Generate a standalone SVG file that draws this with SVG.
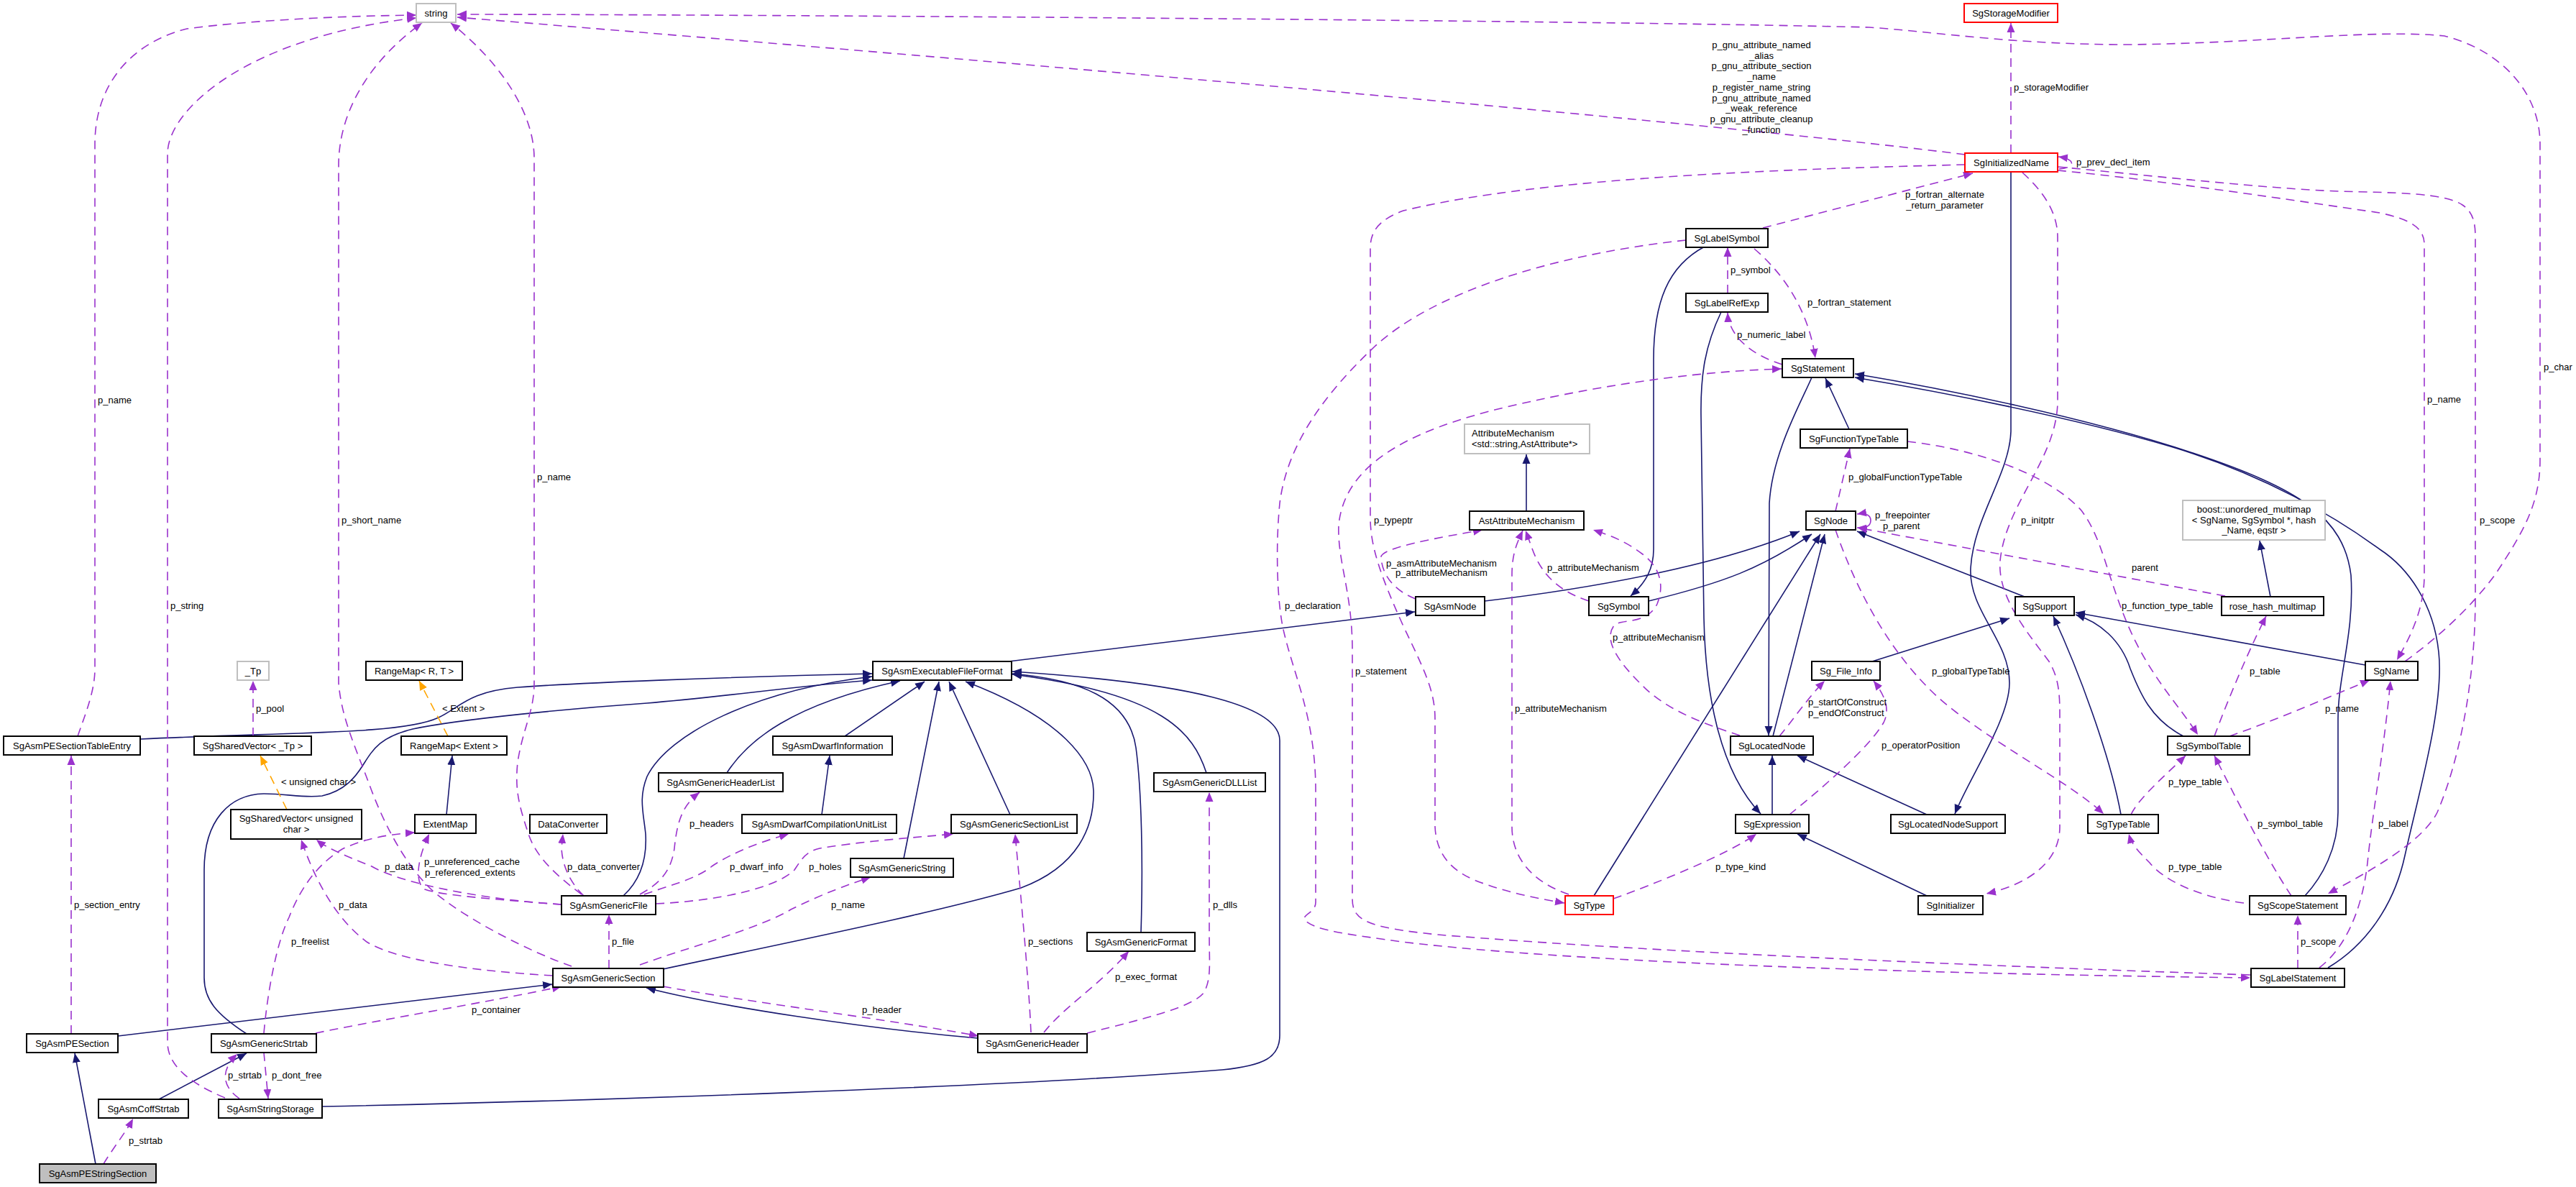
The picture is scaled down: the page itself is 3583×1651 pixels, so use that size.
<svg xmlns="http://www.w3.org/2000/svg" width="3583" height="1651" viewBox="0 0 3583 1651">
<style>
.node rect{fill:#fff;stroke:#000;stroke-width:2}
.node.g rect{stroke:#bfbfbf}
.node.r rect{stroke:#ff0000}
.node.f rect{fill:#bfbfbf}
text{font-family:"Liberation Sans",Arial,sans-serif;font-size:13px;fill:#000}
.node text{text-anchor:middle}
.s{fill:none;stroke:#191970;stroke-width:1.6;marker-end:url(#ab)}
.d{fill:none;stroke:#9a32cd;stroke-width:1.6;stroke-dasharray:12,8;marker-end:url(#ap)}
.dn{fill:none;stroke:#9a32cd;stroke-width:1.6;stroke-dasharray:12,8}
.o{fill:none;stroke:#ffa500;stroke-width:1.6;stroke-dasharray:12,8;marker-end:url(#ao)}
.c{text-anchor:middle}
</style>
<defs>
<marker id="ab" markerUnits="userSpaceOnUse" markerWidth="14" markerHeight="12" viewBox="0 0 14 12" refX="13" refY="6" orient="auto"><path d="M0,0.5 L13,6 L0,11.5 Z" fill="#191970"/></marker>
<marker id="ap" markerUnits="userSpaceOnUse" markerWidth="14" markerHeight="12" viewBox="0 0 14 12" refX="13" refY="6" orient="auto"><path d="M0,0.5 L13,6 L0,11.5 Z" fill="#9a32cd"/></marker>
<marker id="ao" markerUnits="userSpaceOnUse" markerWidth="14" markerHeight="12" viewBox="0 0 14 12" refX="13" refY="6" orient="auto"><path d="M0,0.5 L13,6 L0,11.5 Z" fill="#ffa500"/></marker>
</defs>
<rect width="3583" height="1651" fill="#fff"/>
<g id="edges">
<path class="s" d="M133,1619 L104,1465"/>
<path class="s" d="M221,1529 L343,1465"/>
<path class="s" d="M164,1441 L768,1369"/>
<path class="s" d="M195,1028 C400,1018 560,1022 610,998 C640,984 650,962 720,956 C800,950 1000,942 1213,937"/>
<path class="s" d="M343,1438 C300,1410 284,1390 284,1360 L284,1210 C284,1140 320,1105 367,1104 C400,1104 420,1110 448,1107 C480,1100 495,1080 505,1064 C520,1040 530,1025 574,1014 C640,1000 800,985 900,978 C1000,970 1100,955 1213,946"/>
<path class="s" d="M867,1246 C890,1225 900,1195 898,1160 C895,1130 888,1110 900,1080 C930,1020 1050,960 1213,941"/>
<path class="s" d="M1011,1075 C1040,1030 1100,980 1252,947"/>
<path class="s" d="M1175,1024 L1286,948"/>
<path class="s" d="M1143,1133 L1154,1051"/>
<path class="s" d="M1257,1194 L1306,948"/>
<path class="s" d="M1405,1133 L1320,948"/>
<path class="s" d="M922,1348 C1100,1310 1300,1270 1420,1235 C1500,1205 1522,1150 1521,1100 C1520,1060 1480,1000 1343,948"/>
<path class="s" d="M1587,1297 C1590,1200 1588,1100 1580,1040 C1570,970 1500,945 1408,937"/>
<path class="s" d="M1678,1075 C1660,1020 1620,965 1408,938"/>
<path class="s" d="M448,1539 C800,1532 1400,1512 1700,1488 C1760,1482 1780,1470 1780,1440 L1780,1030 C1780,980 1650,950 1408,934"/>
<path class="s" d="M1403,920 L1968,851"/>
<path class="s" d="M2065,836 C2200,820 2380,790 2503,739"/>
<path class="s" d="M2293,836 C2400,810 2450,790 2520,743"/>
<path class="s" d="M2217,1246 L2532,743"/>
<path class="s" d="M2466,1024 L2538,743"/>
<path class="s" d="M2816,830 L2583,739"/>
<path class="s" d="M2572,597 L2539,526"/>
<path class="s" d="M2520,525 C2505,560 2465,630 2461,700 L2460,1023"/>
<path class="s" d="M2465,1133 L2465,1051"/>
<path class="s" d="M2680,1133 L2500,1051"/>
<path class="s" d="M2394,434 C2372,480 2365,520 2366,580 L2370,860 C2372,960 2390,1070 2449,1132"/>
<path class="s" d="M2680,1246 L2500,1160"/>
<path class="s" d="M2604,920 L2795,860"/>
<path class="s" d="M2950,1133 C2935,1050 2890,930 2856,857"/>
<path class="s" d="M3037,1024 C2990,1000 2975,960 2963,930 C2950,890 2920,865 2887,855"/>
<path class="s" d="M3290,925 L2887,852"/>
<path class="s" d="M3158,830 L3143,752"/>
<path class="s" d="M3206,1246 C3230,1220 3252,1180 3252,1130 L3252,1000 C3252,940 3275,880 3270,800 C3260,720 3200,680 3050,630 C2900,580 2700,540 2580,520"/>
<path class="s" d="M3238,1346 C3290,1315 3330,1260 3345,1190 C3365,1100 3400,980 3392,907 C3385,840 3350,790 3310,764 C3250,720 3150,660 3019,621 C2880,580 2700,545 2580,525"/>
<path class="s" d="M2797,239 L2797,600 C2795,660 2745,720 2741,790 C2738,850 2795,890 2795,950 C2795,1000 2740,1080 2719,1132"/>
<path class="s" d="M2371,343 C2320,370 2300,420 2300,500 L2300,764 C2300,790 2290,810 2268,829"/>
<path class="s" d="M2123,711 L2123,632"/>
<path class="s" d="M621,1133 L629,1051"/>
<path class="s" d="M1360,1444 C1200,1430 1000,1400 899,1374"/>
<path class="d" d="M144,1619 C155,1600 175,1575 185,1556"/>
<path class="d" d="M333,1528 C310,1512 305,1490 330,1466"/>
<path class="d" d="M367,1464 L373,1528"/>
<path class="d" d="M313,1527 C260,1505 233,1480 233,1450 L233,214 C233,150 350,50 579,25"/>
<path class="d" d="M99,1438 L99,1051"/>
<path class="d" d="M108,1024 C120,990 132,960 132,930 L132,200 C132,120 180,60 260,40 C350,28 480,22 579,21"/>
<path class="d" d="M2602,724 C2602,732 2595,735 2583,734"/>
<path class="d" d="M2602,724 C2602,716 2595,713 2583,715"/>
<path class="d" d="M3095,829 L2584,734"/>
<path class="d" d="M2553,711 L2573,624"/>
<path class="d" d="M2244,1250 C2300,1230 2400,1190 2443,1160"/>
<path class="d" d="M2475,1024 C2495,1000 2515,970 2538,947"/>
<path class="d" d="M2489,1133 C2530,1100 2600,1040 2620,1005 C2630,985 2620,965 2606,947"/>
<path class="d" d="M2553,737 C2585,830 2640,930 2720,990 C2800,1050 2880,1090 2926,1132"/>
<path class="d" d="M3080,1024 C3100,970 3130,900 3152,857"/>
<path class="d" d="M2653,614 C2750,625 2850,660 2895,710 C2925,750 2930,800 2960,870 C2990,940 3030,980 3057,1022"/>
<path class="d" d="M3101,1024 C3170,1000 3250,965 3296,946"/>
<path class="d" d="M2964,1133 C2975,1110 3010,1080 3040,1051"/>
<path class="d" d="M3187,1246 C3150,1190 3110,1110 3080,1051"/>
<path class="d" d="M3121,1256 C3060,1248 3010,1225 2990,1200 C2975,1185 2965,1175 2961,1160"/>
<path class="d" d="M3196,1347 L3196,1273"/>
<path class="d" d="M3226,1346 C3260,1320 3285,1270 3293,1200 C3300,1130 3315,1050 3325,947"/>
<path class="d" d="M3130,1356 C2800,1345 2300,1325 2000,1300 C1900,1290 1881,1280 1881,1250 L1881,900 C1880,820 1860,780 1862,730 C1870,650 1950,600 2100,565 C2250,530 2380,516 2478,513"/>
<path class="d" d="M2345,334 C2150,355 1990,410 1912,482 C1840,550 1790,620 1780,700 C1774,760 1776,840 1786,880 C1800,940 1830,1000 1830,1100 L1830,1255 C1830,1270 1810,1272 1815,1280 C1830,1295 1880,1300 1950,1310 C2200,1340 2700,1355 3130,1360"/>
<path class="d" d="M2733,229 C2500,235 2150,245 1952,293 C1920,305 1906,320 1906,345 L1906,720 C1906,760 1920,800 1952,871 C1980,930 1996,960 1996,1000 L1996,1150 C1998,1190 2020,1215 2067,1230 C2100,1242 2140,1250 2176,1256"/>
<path class="d" d="M2733,215 Q2300,160 636,24"/>
<path class="d" d="M3345,920 C3400,880 3440,840 3470,800 C3510,740 3533,700 3533,640 L3533,200 C3533,130 3480,70 3400,50 C3300,40 3150,60 2961,62 C2800,62 2700,45 2600,38 C2200,28 1000,20 636,20"/>
<path class="d" d="M2797,213 L2797,32"/>
<path class="d" d="M2864,235 C2885,234 2890,222 2863,218"/>
<path class="d" d="M2862,237 C3000,250 3200,280 3310,296 C3350,305 3372,315 3372,340 L3372,800 C3372,850 3350,890 3334,918"/>
<path class="d" d="M2862,232 C3000,245 3150,262 3252,266 C3330,268 3400,268 3425,285 C3440,295 3443,310 3443,330 L3443,830 C3443,950 3420,1060 3390,1130 C3370,1170 3300,1210 3238,1243"/>
<path class="d" d="M2813,240 C2835,260 2862,290 2862,330 L2862,560 C2860,640 2790,700 2782,780 C2778,830 2820,880 2850,920 C2865,945 2865,970 2865,1000 L2865,1150 C2865,1200 2820,1230 2763,1243"/>
<path class="d" d="M2452,317 L2744,241"/>
<path class="d" d="M2440,346 C2480,380 2515,430 2525,498"/>
<path class="d" d="M2403,408 L2403,344"/>
<path class="d" d="M2479,507 C2440,495 2405,470 2403,435"/>
<path class="d" d="M1969,833 C1940,822 1922,800 1921,775 C1920,762 2000,748 2062,737"/>
<path class="d" d="M2210,836 C2160,820 2140,790 2130,760 L2122,738"/>
<path class="d" d="M2182,1244 C2140,1230 2103,1200 2103,1150 L2103,800 C2103,770 2110,755 2118,738"/>
<path class="d" d="M2420,1023 C2380,1010 2320,990 2285,954 C2250,920 2230,890 2245,870 C2255,860 2290,870 2305,840 C2315,815 2310,790 2285,771 C2260,752 2240,745 2216,737"/>
<path class="d" d="M352,1024 L352,947"/>
<path class="d" d="M781,1258 C700,1252 610,1245 591,1237 C578,1230 578,1200 597,1160"/>
<path class="d" d="M781,1258 C680,1252 560,1230 517,1205 C480,1190 455,1180 440,1168"/>
<path class="d" d="M812,1246 C790,1225 782,1200 781,1180 L783,1160"/>
<path class="d" d="M809,1244 C770,1215 745,1190 735,1160 C722,1120 716,1100 720,1060 C728,1010 743,990 743,950 L743,220 C743,160 700,90 627,32"/>
<path class="d" d="M890,1244 C915,1230 933,1215 938,1180 C942,1140 950,1120 973,1102"/>
<path class="d" d="M896,1244 C930,1232 970,1222 990,1205 C1020,1185 1060,1170 1097,1160"/>
<path class="d" d="M912,1257 C1000,1253 1080,1235 1105,1210 C1115,1195 1120,1185 1140,1180 C1200,1170 1270,1165 1326,1160"/>
<path class="d" d="M769,1357 C650,1350 550,1335 510,1310 C470,1280 440,1230 419,1168"/>
<path class="d" d="M795,1344 C740,1325 650,1280 603,1240 C570,1210 540,1160 517,1100 C495,1040 475,1000 471,950 L471,230 C471,150 520,80 587,32"/>
<path class="d" d="M847,1347 L847,1272"/>
<path class="d" d="M890,1342 C950,1320 1060,1290 1100,1265 C1140,1245 1180,1230 1211,1220"/>
<path class="d" d="M922,1372 C1050,1395 1250,1420 1361,1441"/>
<path class="d" d="M439,1437 C520,1420 700,1390 781,1372"/>
<path class="d" d="M1434,1436 C1430,1350 1420,1250 1412,1160"/>
<path class="d" d="M1452,1436 C1480,1400 1530,1370 1570,1323"/>
<path class="d" d="M1512,1437 C1600,1415 1660,1400 1675,1380 C1685,1360 1682,1340 1682,1300 L1682,1102"/>
<path class="d" d="M367,1437 C372,1380 385,1310 402,1276 C420,1230 445,1200 476,1181 C510,1165 545,1160 577,1158"/>
<path class="o" d="M399,1126 L362,1051"/>
<path class="o" d="M623,1024 L583,947"/>
<g id="edge-labels">
<text x="136" y="561">p_name</text>
<text x="237" y="847">p_string</text>
<text x="475" y="728">p_short_name</text>
<text x="747" y="668">p_name</text>
<text x="356" y="990">p_pool</text>
<text x="615" y="990">&lt; Extent &gt;</text>
<text x="391" y="1092">&lt; unsigned char &gt;</text>
<text x="103" y="1263">p_section_entry</text>
<text x="535" y="1210">p_data</text>
<text x="590" y="1203">p_unreferenced_cache</text>
<text x="591" y="1218">p_referenced_extents</text>
<text x="789" y="1210">p_data_converter</text>
<text x="471" y="1263">p_data</text>
<text x="405" y="1314">p_freelist</text>
<text x="851" y="1314">p_file</text>
<text x="656" y="1409">p_container</text>
<text x="317" y="1500">p_strtab</text>
<text x="378" y="1500">p_dont_free</text>
<text x="179" y="1591">p_strtab</text>
<text x="959" y="1150">p_headers</text>
<text x="1015" y="1210">p_dwarf_info</text>
<text x="1125" y="1210">p_holes</text>
<text x="1156" y="1263">p_name</text>
<text x="1430" y="1314">p_sections</text>
<text x="1687" y="1263">p_dlls</text>
<text x="1551" y="1363">p_exec_format</text>
<text x="1199" y="1409">p_header</text>
<text x="2407" y="380">p_symbol</text>
<text x="2514" y="425">p_fortran_statement</text>
<text x="2416" y="470">p_numeric_label</text>
<text class="c" x="2450" y="67">p_gnu_attribute_named</text>
<text class="c" x="2450" y="81.7">_alias</text>
<text class="c" x="2450" y="96.4">p_gnu_attribute_section</text>
<text class="c" x="2450" y="111.1">_name</text>
<text class="c" x="2450" y="125.8">p_register_name_string</text>
<text class="c" x="2450" y="140.5">p_gnu_attribute_named</text>
<text class="c" x="2450" y="155.2">_weak_reference</text>
<text class="c" x="2450" y="169.9">p_gnu_attribute_cleanup</text>
<text class="c" x="2450" y="184.6">_function</text>
<text class="c" x="2705" y="275">p_fortran_alternate</text>
<text class="c" x="2705" y="290">_return_parameter</text>
<text x="2801" y="126">p_storageModifier</text>
<text x="2888" y="230">p_prev_decl_item</text>
<text x="3376" y="560">p_name</text>
<text x="3538" y="515">p_char</text>
<text x="1911" y="728">p_typeptr</text>
<text class="c" x="2005" y="788">p_asmAttributeMechanism</text>
<text class="c" x="2005" y="801">p_attributeMechanism</text>
<text x="2152" y="794">p_attributeMechanism</text>
<text x="1787" y="847">p_declaration</text>
<text x="1885" y="938">p_statement</text>
<text x="2107" y="990">p_attributeMechanism</text>
<text x="2243" y="891">p_attributeMechanism</text>
<text x="2608" y="721">p_freepointer</text>
<text x="2619" y="736">p_parent</text>
<text x="2571" y="668">p_globalFunctionTypeTable</text>
<text x="2515" y="981">p_startOfConstruct</text>
<text x="2515" y="996">p_endOfConstruct</text>
<text x="2617" y="1041">p_operatorPosition</text>
<text x="2811" y="728">p_initptr</text>
<text x="2965" y="794">parent</text>
<text x="2951" y="847">p_function_type_table</text>
<text x="2687" y="938">p_globalTypeTable</text>
<text x="3129" y="938">p_table</text>
<text x="3234" y="990">p_name</text>
<text x="3016" y="1092">p_type_table</text>
<text x="3449" y="728">p_scope</text>
<text x="2386" y="1210">p_type_kind</text>
<text x="3140" y="1150">p_symbol_table</text>
<text x="3308" y="1150">p_label</text>
<text x="3016" y="1210">p_type_table</text>
<text x="3200" y="1314">p_scope</text>
</g>
</g>
<g id="n_string" class="node g"><rect x="579" y="5" width="55" height="26"/><text x="606.5" y="22.5">string</text></g>
<g id="n_SgStorageModifier" class="node r"><rect x="2732" y="5" width="130" height="26"/><text x="2797" y="22.5">SgStorageModifier</text></g>
<g id="n_SgInitializedName" class="node r"><rect x="2733" y="213" width="129" height="26"/><text x="2797.5" y="230.5">SgInitializedName</text></g>
<g id="n_SgLabelSymbol" class="node"><rect x="2345" y="318" width="114" height="26"/><text x="2402" y="335.5">SgLabelSymbol</text></g>
<g id="n_SgLabelRefExp" class="node"><rect x="2345" y="408" width="114" height="26"/><text x="2402" y="425.5">SgLabelRefExp</text></g>
<g id="n_SgStatement" class="node"><rect x="2479" y="499" width="99" height="26"/><text x="2528.5" y="516.5">SgStatement</text></g>
<g id="n_SgFunctionTypeTable" class="node"><rect x="2504" y="597" width="149" height="26"/><text x="2578.5" y="614.5">SgFunctionTypeTable</text></g>
<g id="n_AttributeMechanism" class="node g"><rect x="2037" y="590" width="174" height="41"/><text x="2047" y="606.5" style="text-anchor:start">AttributeMechanism</text><text x="2047" y="621.5" style="text-anchor:start">&lt;std::string,AstAttribute*&gt;</text></g>
<g id="n_AstAttributeMechanism" class="node"><rect x="2044" y="711" width="159" height="26"/><text x="2123.5" y="728.5">AstAttributeMechanism</text></g>
<g id="n_SgNode" class="node"><rect x="2512" y="711" width="69" height="26"/><text x="2546.5" y="728.5">SgNode</text></g>
<g id="n_SgAsmNode" class="node"><rect x="1969" y="830" width="96" height="26"/><text x="2017" y="847.5">SgAsmNode</text></g>
<g id="n_SgSymbol" class="node"><rect x="2210" y="830" width="83" height="26"/><text x="2251.5" y="847.5">SgSymbol</text></g>
<g id="n_boost" class="node g"><rect x="3036" y="696" width="198" height="55"/><text x="3135" y="712.5">boost::unordered_multimap</text><text x="3135" y="727.5">&lt; SgName, SgSymbol *, hash</text><text x="3135" y="741.5">_Name, eqstr &gt;</text></g>
<g id="n_SgSupport" class="node"><rect x="2803" y="830" width="82" height="26"/><text x="2844" y="847.5">SgSupport</text></g>
<g id="n_rose_hash_multimap" class="node"><rect x="3090" y="830" width="142" height="26"/><text x="3161" y="847.5">rose_hash_multimap</text></g>
<g id="n_Sg_File_Info" class="node"><rect x="2520" y="920" width="95" height="26"/><text x="2567.5" y="937.5">Sg_File_Info</text></g>
<g id="n_SgName" class="node"><rect x="3290" y="920" width="73" height="26"/><text x="3326.5" y="937.5">SgName</text></g>
<g id="n_SgLocatedNode" class="node"><rect x="2407" y="1024" width="115" height="26"/><text x="2464.5" y="1041.5">SgLocatedNode</text></g>
<g id="n_SgSymbolTable" class="node"><rect x="3015" y="1024" width="114" height="26"/><text x="3072" y="1041.5">SgSymbolTable</text></g>
<g id="n_SgExpression" class="node"><rect x="2414" y="1133" width="102" height="26"/><text x="2465" y="1150.5">SgExpression</text></g>
<g id="n_SgLocatedNodeSupport" class="node"><rect x="2630" y="1133" width="159" height="26"/><text x="2709.5" y="1150.5">SgLocatedNodeSupport</text></g>
<g id="n_SgTypeTable" class="node"><rect x="2904" y="1133" width="98" height="26"/><text x="2953" y="1150.5">SgTypeTable</text></g>
<g id="n_SgType" class="node r"><rect x="2177" y="1246" width="67" height="26"/><text x="2210.5" y="1263.5">SgType</text></g>
<g id="n_SgInitializer" class="node"><rect x="2668" y="1246" width="90" height="26"/><text x="2713" y="1263.5">SgInitializer</text></g>
<g id="n_SgScopeStatement" class="node"><rect x="3129" y="1246" width="134" height="26"/><text x="3196" y="1263.5">SgScopeStatement</text></g>
<g id="n_SgLabelStatement" class="node"><rect x="3131" y="1347" width="130" height="26"/><text x="3196" y="1364.5">SgLabelStatement</text></g>
<g id="n_SgAsmExecutableFileFormat" class="node"><rect x="1214" y="920" width="193" height="26"/><text x="1310.5" y="937.5">SgAsmExecutableFileFormat</text></g>
<g id="n_SgAsmDwarfInformation" class="node"><rect x="1075" y="1024" width="166" height="26"/><text x="1158" y="1041.5">SgAsmDwarfInformation</text></g>
<g id="n_SgAsmGenericHeaderList" class="node"><rect x="916" y="1075" width="173" height="26"/><text x="1002.5" y="1092.5">SgAsmGenericHeaderList</text></g>
<g id="n_SgAsmGenericDLLList" class="node"><rect x="1605" y="1075" width="155" height="26"/><text x="1682.5" y="1092.5">SgAsmGenericDLLList</text></g>
<g id="n_SgAsmPESectionTableEntry" class="node"><rect x="5" y="1024" width="190" height="26"/><text x="100" y="1041.5">SgAsmPESectionTableEntry</text></g>
<g id="n_Tp" class="node g"><rect x="330" y="920" width="44" height="26"/><text x="352" y="937.5">_Tp</text></g>
<g id="n_SgSharedVector_Tp" class="node"><rect x="270" y="1024" width="163" height="26"/><text x="351.5" y="1041.5">SgSharedVector&lt; _Tp &gt;</text></g>
<g id="n_RangeMap_RT" class="node"><rect x="509" y="920" width="134" height="26"/><text x="576" y="937.5">RangeMap&lt; R, T &gt;</text></g>
<g id="n_RangeMap_Extent" class="node"><rect x="558" y="1024" width="147" height="26"/><text x="631.5" y="1041.5">RangeMap&lt; Extent &gt;</text></g>
<g id="n_SgSharedVector_uchar" class="node"><rect x="321" y="1126" width="182" height="41"/><text x="412" y="1142.5">SgSharedVector&lt; unsigned</text><text x="412" y="1157.5">char &gt;</text></g>
<g id="n_ExtentMap" class="node"><rect x="577" y="1133" width="85" height="26"/><text x="619.5" y="1150.5">ExtentMap</text></g>
<g id="n_DataConverter" class="node"><rect x="737" y="1133" width="107" height="26"/><text x="790.5" y="1150.5">DataConverter</text></g>
<g id="n_SgAsmDwarfCompilationUnitList" class="node"><rect x="1032" y="1133" width="215" height="26"/><text x="1139.5" y="1150.5">SgAsmDwarfCompilationUnitList</text></g>
<g id="n_SgAsmGenericSectionList" class="node"><rect x="1323" y="1133" width="175" height="26"/><text x="1410.5" y="1150.5">SgAsmGenericSectionList</text></g>
<g id="n_SgAsmGenericString" class="node"><rect x="1183" y="1194" width="143" height="26"/><text x="1254.5" y="1211.5">SgAsmGenericString</text></g>
<g id="n_SgAsmGenericFile" class="node"><rect x="781" y="1246" width="131" height="26"/><text x="846.5" y="1263.5">SgAsmGenericFile</text></g>
<g id="n_SgAsmGenericFormat" class="node"><rect x="1512" y="1297" width="150" height="26"/><text x="1587" y="1314.5">SgAsmGenericFormat</text></g>
<g id="n_SgAsmGenericSection" class="node"><rect x="769" y="1347" width="154" height="26"/><text x="846" y="1364.5">SgAsmGenericSection</text></g>
<g id="n_SgAsmPESection" class="node"><rect x="37" y="1438" width="127" height="26"/><text x="100.5" y="1455.5">SgAsmPESection</text></g>
<g id="n_SgAsmGenericStrtab" class="node"><rect x="294" y="1438" width="146" height="26"/><text x="367" y="1455.5">SgAsmGenericStrtab</text></g>
<g id="n_SgAsmGenericHeader" class="node"><rect x="1360" y="1438" width="152" height="26"/><text x="1436" y="1455.5">SgAsmGenericHeader</text></g>
<g id="n_SgAsmCoffStrtab" class="node"><rect x="137" y="1529" width="125" height="26"/><text x="199.5" y="1546.5">SgAsmCoffStrtab</text></g>
<g id="n_SgAsmStringStorage" class="node"><rect x="304" y="1529" width="144" height="26"/><text x="376" y="1546.5">SgAsmStringStorage</text></g>
<g id="n_SgAsmPEStringSection" class="node f"><rect x="55" y="1619" width="162" height="26"/><text x="136" y="1636.5">SgAsmPEStringSection</text></g>
</svg>
